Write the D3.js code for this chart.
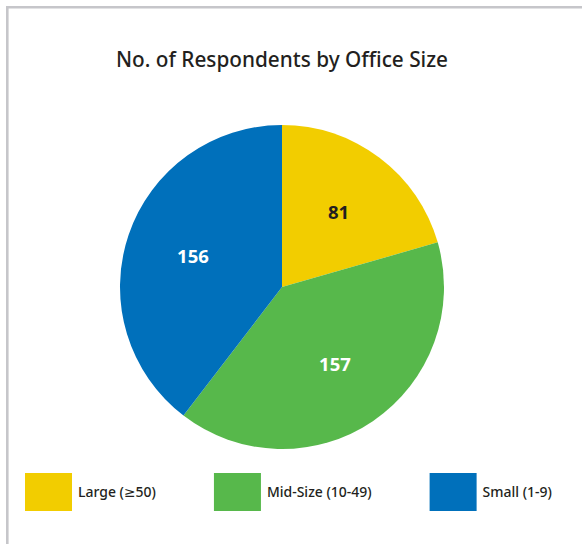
<!DOCTYPE html>
<html>
<head>
<meta charset="utf-8">
<script src="https://cdn.jsdelivr.net/npm/d3@7"></script>
<style>
  html, body { margin: 0; padding: 0; background: #ffffff; }
  svg { display: block; }
</style>
</head>
<body>
<script>
const title = "No. of Respondents by Office Size";
const categories = ["Large (≥50)", "Mid-Size (10-49)", "Small (1-9)"];
const values = [81, 157, 156];
const colors = ["#f2cd00", "#57b84b", "#0070bb"];
const labelColors = ["#231f20", "#ffffff", "#ffffff"];

const W = 582, H = 544;
const FONT = "'Noto Sans', 'DejaVu Sans', sans-serif";

const svg = d3.select("body").append("svg").attr("width", W).attr("height", H);

// frame lines (left and top)
svg.append("line").attr("x1", 7.3).attr("x2", 7.3).attr("y1", 6).attr("y2", H)
  .attr("stroke", "#c6c6ca").attr("stroke-width", 2.6);
svg.append("line").attr("x1", 6).attr("x2", W).attr("y1", 7.3).attr("y2", 7.3)
  .attr("stroke", "#c6c6ca").attr("stroke-width", 2.6);

// title
const t = svg.append("text")
  .attr("x", 282).attr("y", 67)
  .attr("text-anchor", "middle")
  .attr("font-family", FONT).attr("font-weight", 500)
  .attr("font-size", 19).attr("fill", "#231f20")
  .text(title);
const tw = t.node().getComputedTextLength();
t.attr("font-size", 19 * 332 / tw);

// pie
const cx = 282, cy = 287, R = 162;
const pie = d3.pie().sort(null).value(d => d.v);
const data = pie(values.map((v, i) => ({ v, i })));
const arc = d3.arc().innerRadius(0).outerRadius(R);
const labelArc = d3.arc().innerRadius(188).outerRadius(0);

const g = svg.append("g").attr("transform", `translate(${cx},${cy})`);
g.selectAll("path").data(data).enter().append("path")
  .attr("d", arc)
  .attr("fill", d => colors[d.data.i]);

g.selectAll("text.lbl").data(data).enter().append("text")
  .attr("class", "lbl")
  .attr("transform", d => `translate(${labelArc.centroid(d)})`)
  .attr("text-anchor", "middle")
  .attr("dy", "0.36em")
  .attr("font-family", FONT).attr("font-weight", 700)
  .attr("font-size", 18.5)
  .attr("fill", d => labelColors[d.data.i])
  .text(d => d.data.v);

// legend: items laid out one after another
const leg = svg.append("g");
const probe = leg.append("text").attr("font-family", FONT).attr("font-weight", 500)
  .attr("font-size", 13).text(categories[0]);
const legFs = 13 * 78 / probe.node().getComputedTextLength();
probe.remove();

let lx = 25;
categories.forEach((c, i) => {
  const item = leg.append("g").attr("transform", `translate(${lx},473)`);
  item.append("rect").attr("width", 47).attr("height", 38).attr("fill", colors[i]);
  const tx = item.append("text").attr("x", 53).attr("y", 19).attr("dy", "0.35em")
    .attr("font-family", FONT).attr("font-weight", 500)
    .attr("font-size", legFs).attr("fill", "#231f20")
    .text(c);
  lx += 53 + tx.node().getComputedTextLength() + 58;
});
</script>
</body>
</html>
